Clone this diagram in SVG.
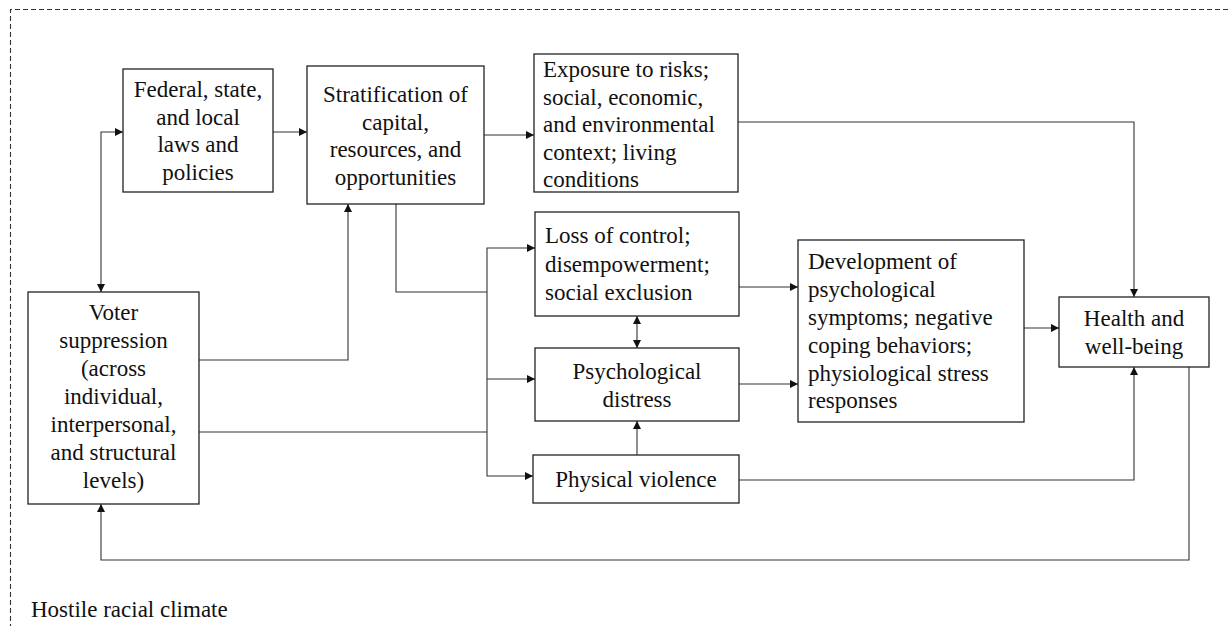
<svg xmlns="http://www.w3.org/2000/svg" width="1228" height="626" viewBox="0 0 1228 626">
<defs>
<style>
.box{fill:#fff;stroke:#222;stroke-width:1.3}
.c{fill:none;stroke:#333;stroke-width:1.1}
.t{font-family:"Liberation Serif","Times New Roman",serif;font-size:23px;fill:#111}
.m{text-anchor:middle}
</style>
<marker id="ah" viewBox="0 0 10 10" refX="10" refY="5" markerWidth="9" markerHeight="8" markerUnits="userSpaceOnUse" orient="auto-start-reverse">
<path d="M0,0 L10,5 L0,10 Z" fill="#111"/>
</marker>
</defs>
<rect width="1228" height="626" fill="#fff"/>
<path d="M1228,9.5 H10.5 V626" fill="none" stroke="#333" stroke-width="1.1" stroke-dasharray="5,3"/>
<text class="t" x="31" y="617">Hostile racial climate</text>

<g id="connectors">
<path class="c" d="M273,132 H307" marker-end="url(#ah)"/>
<path class="c" d="M484,135 H534" marker-end="url(#ah)"/>
<path class="c" d="M101,292 V132 H123" marker-start="url(#ah)" marker-end="url(#ah)"/>
<path class="c" d="M199,360 H348 V204" marker-end="url(#ah)"/>
<path class="c" d="M396,204 V292 H487"/>
<path class="c" d="M487,292 V248 H535" marker-end="url(#ah)"/>
<path class="c" d="M487,292 V476 H533" marker-end="url(#ah)"/>
<path class="c" d="M487,379 H535" marker-end="url(#ah)"/>
<path class="c" d="M199,432 H487"/>
<path class="c" d="M637,316 V348" marker-start="url(#ah)" marker-end="url(#ah)"/>
<path class="c" d="M637,455 V421" marker-end="url(#ah)"/>
<path class="c" d="M739,287 H798" marker-end="url(#ah)"/>
<path class="c" d="M739,384 H798" marker-end="url(#ah)"/>
<path class="c" d="M738,122 H1134 V297" marker-end="url(#ah)"/>
<path class="c" d="M1024,328 H1059" marker-end="url(#ah)"/>
<path class="c" d="M739,480 H1134 V367" marker-end="url(#ah)"/>
<path class="c" d="M1189,367 V560 H101 V504" marker-end="url(#ah)"/>
</g>

<g id="federal">
<rect class="box" x="123" y="69" width="150" height="123"/>
<text class="t m" x="198" y="97">Federal, state,</text>
<text class="t m" x="198" y="124.7">and local</text>
<text class="t m" x="198" y="152.4">laws and</text>
<text class="t m" x="198" y="180">policies</text>
</g>

<g id="stratification">
<rect class="box" x="307" y="66" width="177" height="138"/>
<text class="t m" x="395.5" y="102">Stratification of</text>
<text class="t m" x="395.5" y="129.7">capital,</text>
<text class="t m" x="395.5" y="157.4">resources, and</text>
<text class="t m" x="395.5" y="185">opportunities</text>
</g>

<g id="exposure">
<rect class="box" x="534" y="54" width="204" height="138"/>
<text class="t" x="543" y="77">Exposure to risks;</text>
<text class="t" x="543" y="104.5">social, economic,</text>
<text class="t" x="543" y="132">and environmental</text>
<text class="t" x="543" y="159.5">context; living</text>
<text class="t" x="543" y="187">conditions</text>
</g>

<g id="loss">
<rect class="box" x="535" y="212" width="204" height="104"/>
<text class="t" x="545" y="243">Loss of control;</text>
<text class="t" x="545" y="271.5">disempowerment;</text>
<text class="t" x="545" y="300">social exclusion</text>
</g>

<g id="distress">
<rect class="box" x="535" y="348" width="204" height="73"/>
<text class="t m" x="637" y="378.5">Psychological</text>
<text class="t m" x="637" y="406.5">distress</text>
</g>

<g id="violence">
<rect class="box" x="533" y="455" width="206" height="48"/>
<text class="t m" x="636" y="487">Physical violence</text>
</g>

<g id="development">
<rect class="box" x="798" y="240" width="226" height="182"/>
<text class="t" x="808" y="268.5">Development of</text>
<text class="t" x="808" y="296.5">psychological</text>
<text class="t" x="808" y="324.5">symptoms; negative</text>
<text class="t" x="808" y="352.5">coping behaviors;</text>
<text class="t" x="808" y="380.5">physiological stress</text>
<text class="t" x="808" y="408">responses</text>
</g>

<g id="health">
<rect class="box" x="1059" y="297" width="150" height="70"/>
<text class="t m" x="1134" y="326">Health and</text>
<text class="t m" x="1134" y="354">well-being</text>
</g>

<g id="voter">
<rect class="box" x="28" y="292" width="171" height="212"/>
<text class="t m" x="113.5" y="320">Voter</text>
<text class="t m" x="113.5" y="348">suppression</text>
<text class="t m" x="113.5" y="376">(across</text>
<text class="t m" x="113.5" y="404">individual,</text>
<text class="t m" x="113.5" y="432">interpersonal,</text>
<text class="t m" x="113.5" y="460">and structural</text>
<text class="t m" x="113.5" y="488">levels)</text>
</g>
</svg>
